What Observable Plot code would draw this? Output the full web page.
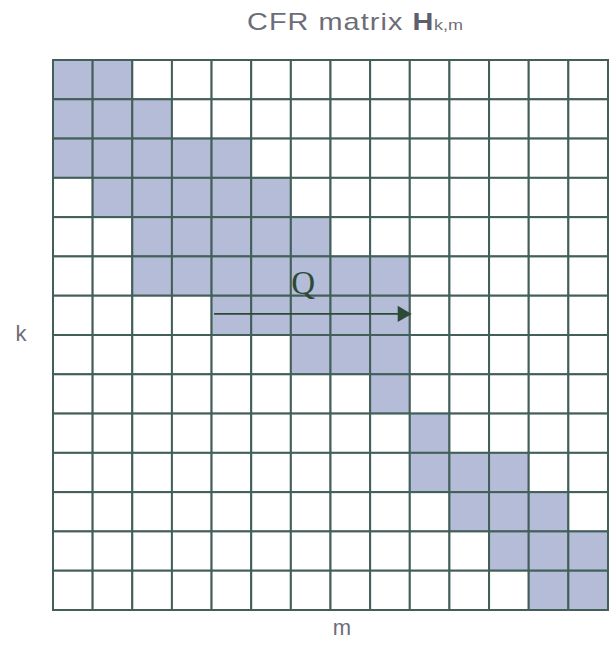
<!DOCTYPE html>
<html>
<head>
<meta charset="utf-8">
<script src="https://cdn.jsdelivr.net/npm/d3@7"></script>
<script src="https://cdn.jsdelivr.net/npm/@observablehq/plot@0.6"></script>
<style>
  html, body { margin: 0; padding: 0; background: #ffffff; }
  #wrap { position: relative; width: 612px; height: 652px; overflow: hidden; }
  #title {
    position: absolute; left: 247px; top: 8px;
    font-family: "Liberation Sans", Arial, sans-serif; font-size: 24px;
    color: #6d6d78; letter-spacing: 0.9px; white-space: nowrap;
    transform: scaleX(1.2); transform-origin: left top;
  }
  #title b { color: #5e5e6c; letter-spacing: 0.5px; }
  #title sub { font-size: 15px; letter-spacing: 0px; vertical-align: 0px; }
</style>
</head>
<body>
<div id="wrap">
  <div id="chart"></div>
  <div id="title">CFR matrix <b>H</b><sub>k,m</sub></div>
</div>
<script>
// Matrix size (rows k, columns m)
const nRows = 14;
const nCols = 14;
// For each row k: first and last shaded column m (inclusive)
const shadedStart = [0, 0, 0, 1, 2, 2, 4, 6, 8, 9, 9, 10, 11, 12];
const shadedEnd   = [1, 2, 4, 5, 6, 8, 8, 8, 8, 9, 11, 12, 13, 13];
// Arrow labelled Q (in column/row units)
const arrowFrom = [4.05, 6.45];
const arrowTo = [8.7, 6.45];
const arrowHead = [8.8, 6.45];
const qLabel = [{x: 6.3, y: 5.68, text: "Q"}];
const axisLabelX = "m";
const axisLabelY = "k";

const cells = [];
for (let k = 0; k < nRows; k++) {
  for (let m = 0; m < nCols; m++) {
    cells.push({k, m, shaded: m >= shadedStart[k] && m <= shadedEnd[k]});
  }
}

const gridColor = "#435f5a";
const shadeColor = "#b4bcd7";
const arrowColor = "#2c4a36";

const chart = Plot.plot({
  width: 612,
  height: 652,
  marginLeft: 53,
  marginRight: 4,
  marginTop: 60,
  marginBottom: 42,
  x: {domain: [0, nCols], axis: null},
  y: {domain: [0, nRows], reverse: true, axis: null},
  style: {background: "transparent"},
  marks: [
    Plot.rect(cells, {
      x1: d => d.m, x2: d => d.m + 1,
      y1: d => d.k, y2: d => d.k + 1,
      fill: d => d.shaded ? shadeColor : "#ffffff",
      stroke: gridColor, strokeWidth: 2
    }),
    Plot.link([{x1: arrowFrom[0], y1: arrowFrom[1], x2: arrowTo[0], y2: arrowTo[1]}], {
      x1: "x1", y1: "y1", x2: "x2", y2: "y2",
      stroke: arrowColor, strokeWidth: 1.6
    }),
    Plot.dot([{x: arrowHead[0], y: arrowHead[1]}], {
      x: "x", y: "y", symbol: "triangle", rotate: 90, r: 6,
      fill: arrowColor, stroke: "none"
    }),
    Plot.text(qLabel, {
      x: "x", y: "y", text: "text",
      fontFamily: "'Liberation Serif', 'Times New Roman', serif",
      fontSize: 33, fill: arrowColor
    }),
    Plot.text([axisLabelY], {
      text: d => d, frameAnchor: "left", dx: -38, dy: -2,
      fontFamily: "'Liberation Sans', Arial, sans-serif", fontSize: 22, fill: "#6d6d78"
    }),
    Plot.text([axisLabelX], {
      text: d => d, frameAnchor: "bottom", dx: 11, dy: 24,
      fontFamily: "'Liberation Sans', Arial, sans-serif", fontSize: 22, fill: "#6d6d78"
    })
  ]
});
document.getElementById("chart").appendChild(chart);
</script>
</body>
</html>
